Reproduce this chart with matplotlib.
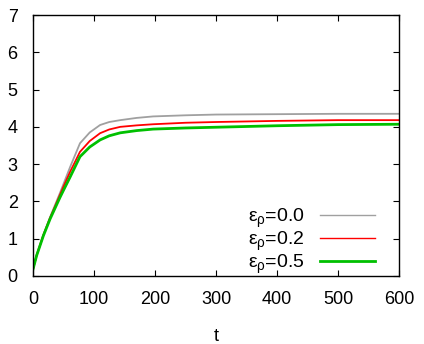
import matplotlib
matplotlib.use("Agg")
import matplotlib.pyplot as plt

plt.rcParams['font.family'] = ['Liberation Sans', 'DejaVu Sans']
plt.rcParams['mathtext.fontset'] = 'custom'
plt.rcParams['mathtext.rm'] = 'Liberation Sans'
plt.rcParams['mathtext.it'] = 'Liberation Sans'

t = [0, 6, 17, 28, 44, 50, 61, 77, 93, 110, 125, 143, 170, 197, 250, 300, 400, 500, 600]
gray = [0.18, 0.56, 1.1, 1.58, 2.22, 2.47, 2.93, 3.56, 3.85, 4.05, 4.13, 4.18, 4.24, 4.28, 4.31, 4.33, 4.34, 4.35, 4.35]
red = [0.18, 0.56, 1.1, 1.56, 2.17, 2.4, 2.8, 3.33, 3.62, 3.83, 3.93, 4.0, 4.04, 4.07, 4.11, 4.13, 4.16, 4.18, 4.18]
green = [0.18, 0.55, 1.08, 1.53, 2.1, 2.3, 2.66, 3.2, 3.46, 3.65, 3.76, 3.84, 3.9, 3.94, 3.97, 3.99, 4.03, 4.06, 4.07]
labels = ['0.0', '0.2', '0.5']

fig = plt.figure(figsize=(4.24, 3.44), dpi=100)
ax = fig.add_axes([33/424, (344-276)/344, (399-33)/424, (276-15)/344])
ax.plot(t, gray, color='#a0a0a0', lw=1.3, label=r'$\epsilon_{\rho}$=' + labels[0])
ax.plot(t, red, color='#ff0000', lw=1.3, label=r'$\epsilon_{\rho}$=' + labels[1])
ax.plot(t, green, color='#00c000', lw=2.0, label=r'$\epsilon_{\rho}$=' + labels[2])
ax.set_xlim(0, 600)
ax.set_ylim(0, 7)
ax.set_xticks(range(0, 601, 100))
ax.set_yticks(range(0, 8))
ax.tick_params(direction='in', top=True, right=True, labelsize=13, length=4)
ax.tick_params(axis='x', pad=11)
ax.tick_params(axis='y', pad=11)
ax.set_xlabel('t', fontsize=13, labelpad=14)
for s in ax.spines.values():
    s.set_linewidth(1.0)
leg = ax.legend(loc='lower right', frameon=False, markerfirst=False, fontsize=14,
                handlelength=2.8, handletextpad=0.8, labelspacing=0.0,
                bbox_to_anchor=(0.965, -0.045), borderaxespad=0.2)
for line in leg.get_lines()[:2]:
    line.set_linewidth(1.0)
fig.savefig('out.png', dpi=100)
